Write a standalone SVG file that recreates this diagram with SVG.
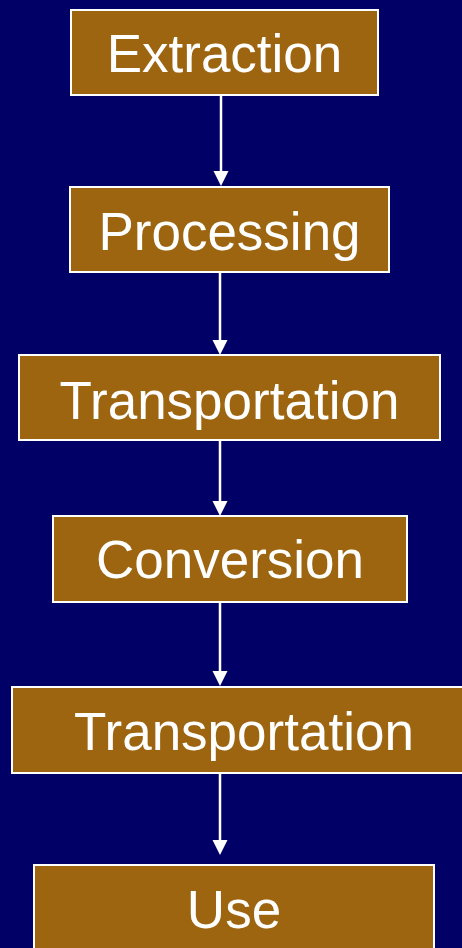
<svg xmlns="http://www.w3.org/2000/svg" width="462" height="948" viewBox="0 0 462 948">
<defs>
<style>
.box{fill:#9E6510;stroke:#FFFFFF;stroke-width:2}
.lbl{font-family:"Liberation Sans",Arial,sans-serif;font-size:53px;fill:#FFFFFF;text-anchor:middle}
.edge{stroke:#FFFFFF;stroke-width:2.5;fill:none}
.head{fill:#FFFFFF}
</style>
</defs>
<rect width="462" height="948" fill="#000066"/>
<g id="connectors">
<line class="edge" x1="221" y1="95" x2="221" y2="172"/>
<polygon class="head" points="213.5,171 228.5,171 221,186"/>
<line class="edge" x1="220" y1="272" x2="220" y2="341"/>
<polygon class="head" points="212.5,340 227.5,340 220,355"/>
<line class="edge" x1="220" y1="440" x2="220" y2="502"/>
<polygon class="head" points="212.5,501 227.5,501 220,516"/>
<line class="edge" x1="220" y1="602" x2="220" y2="672"/>
<polygon class="head" points="212.5,671 227.5,671 220,686"/>
<line class="edge" x1="220" y1="773" x2="220" y2="841"/>
<polygon class="head" points="212.5,840 227.5,840 220,855"/>
</g>
<g id="extraction">
<rect class="box" x="71" y="10" width="307" height="85"/>
<text class="lbl" x="224.5" y="72">Extraction</text>
</g>
<g id="processing">
<rect class="box" x="70" y="187" width="319" height="85"/>
<text class="lbl" x="229.5" y="250">Processing</text>
</g>
<g id="transportation1">
<rect class="box" x="19" y="355" width="421" height="85"/>
<text class="lbl" x="229.5" y="419">Transportation</text>
</g>
<g id="conversion">
<rect class="box" x="53" y="516" width="354" height="86"/>
<text class="lbl" x="230" y="578">Conversion</text>
</g>
<g id="transportation2">
<rect class="box" x="12" y="687" width="464" height="86"/>
<text class="lbl" x="244" y="750">Transportation</text>
</g>
<g id="use">
<rect class="box" x="34" y="865" width="400" height="100"/>
<text class="lbl" x="234" y="928">Use</text>
</g>
</svg>
